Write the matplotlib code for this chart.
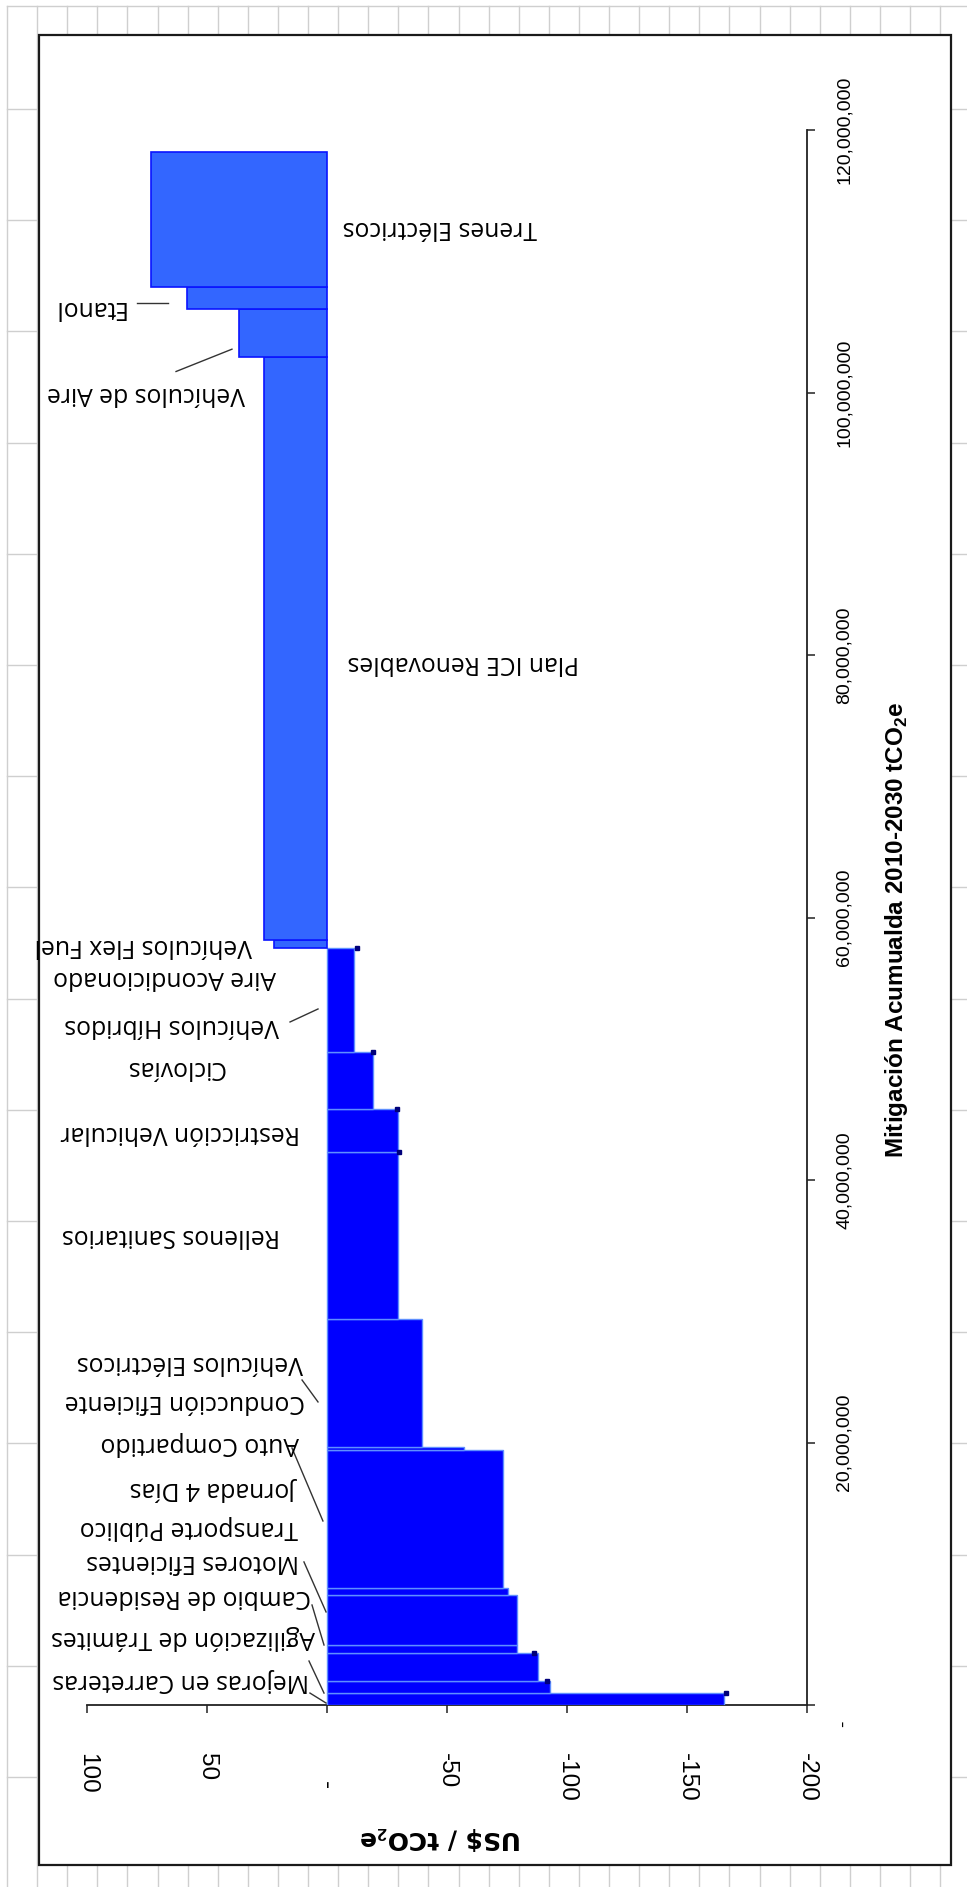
import matplotlib
matplotlib.use("Agg")
import matplotlib.pyplot as plt
from matplotlib import font_manager
from matplotlib.patches import Rectangle
import numpy as np

W, H, DPI = 967, 1887, 100

# ---- data -------------------------------------------------------------
# Abatement of each measure (million tCO2e) and its unit cost (US$/tCO2e),
# in merit order along the cumulative mitigation axis
mitigation_mt = [0.90, 0.91, 2.13, 0.61, 3.81, 0.53, 10.51, 0.23, 9.75,
                 12.72, 3.28, 4.34, 7.92, 0.61, 44.42, 3.66, 1.68, 10.29]
cost_usd = [-165.4, -92.9, -87.9, -79.2, -79.2, -75.4, -73.3, -57.1, -39.6,
            -29.7, -29.7, -19.0, -11.3, 22.1, 26.3, 36.7, 58.3, 73.3]

# small point markers sitting at the end of some measures
dot_bar = [0, 1, 2, 9, 10, 11, 12]
dot_cost = [-166.3, -91.7, -86.3, -30.0, -29.2, -19.2, -12.5]

cost_ticks = [100, 50, 0, -50, -100, -150, -200]
cost_ticklabels = ["100", "50", "    -", "-50", "-100", "-150", "-200"]
cum_ticks_mt = [0, 20, 40, 60, 80, 100, 120]
cum_ticklabels = ["-       ", "20,000,000", "40,000,000", "60,000,000",
                  "80,000,000", "100,000,000", "120,000,000"]

measure_labels = ["Mejoras en Carreteras", "Agilización de Trámites",
                  "Cambio de Residencia", "Motores Eficientes",
                  "Transporte Público", "Jornada 4 Días", "Auto Compartido",
                  "Conducción Eficiente", "Vehículos Eléctricos",
                  "Rellenos Sanitarios", "Restricción Vehicular", "Ciclovías",
                  "Vehículos Híbridos", "Aire Acondicionado",
                  "Vehículos Flex Fuel", "Plan ICE Renovables",
                  "Vehículos de Aire", "Etanol", "Trenes Eléctricos"]

# ---- layout -----------------------------------------------------------
# anchor of each measure label (cost, Mt): the start of the text
label_cost = [7.5, 5.0, 6.7, 11.7, 12.1, 11.7, 11.7, 9.2, 10.0, 19.6, 11.25,
              42.9, 20.0, 21.25, 31.25, -105.0, 34.2, 84.2, -87.5]
label_mt = [1.9, 5.18, 8.23, 10.9, 13.56, 16.5, 19.9, 23.1, 26.1, 35.8, 43.6,
            48.6, 51.8, 55.4, 57.9, 79.4, 99.96, 106.5, 112.6]

# leader lines ((cost0, cost1), (Mt0, Mt1))
leaders = [((7.1, 0.4), (0.91, 0.15)),
           ((7.5, 1.25), (3.35, 0.91)),
           ((6.25, 1.25), (7.62, 4.57)),
           ((9.6, 0.4), (10.9, 7.09)),
           ((14.6, 1.7), (19.58, 14.02)),
           ((10.4, 3.75), (24.76, 23.09)),
           ((15.4, 3.75), (52.04, 53.03)),
           ((62.9, 39.6), (101.6, 103.3)),
           ((79.2, 66.25), (106.8, 106.8))]

# condensed face for the axis texts when available
_installed = {f.name for f in font_manager.fontManager.ttflist}
if "Liberation Sans Narrow" in _installed:
    NARROW = ["Liberation Sans Narrow", "DejaVu Sans"]
    SZ_CUM, SZ_COST, SZ_TITLE = 17, 20, 19.5
else:
    NARROW = ["Liberation Sans", "DejaVu Sans"]
    SZ_CUM, SZ_COST, SZ_TITLE = 14, 17.5, 17.5
LABEL_FONT = ["Open Sans", "DejaVu Sans"]

plt.rcParams["mathtext.fontset"] = "custom"
plt.rcParams["mathtext.rm"] = "Liberation Sans"
plt.rcParams["mathtext.bf"] = "Liberation Sans:bold"

fig = plt.figure(figsize=(W / DPI, H / DPI), dpi=DPI)
fig.patch.set_facecolor("white")

# worksheet background with its cell grid, and the chart frame on top
bg = fig.add_axes([0, 0, 1, 1])
bg.set_xlim(0, W)
bg.set_ylim(H, 0)
bg.axis("off")
grid_c = "#cfcfcf"
for x in np.arange(7, W, 30.1):
    bg.plot([x, x], [6, H], color=grid_c, lw=1.0)
bg.plot([7, W], [6, 6], color=grid_c, lw=1.0)
for y in np.arange(109, H, 111.2):
    bg.plot([7, W], [y, y], color=grid_c, lw=1.0)
bg.add_patch(Rectangle((39, 35), 912, 1830, facecolor="white",
                       edgecolor="#1a1a1a", lw=1.6, zorder=5))

# axis titles
bg.text(441, 1838, "US\\$ / tCO$_{\\mathbf{2}}$e", rotation=180,
        ha="center", va="center", fontsize=18, fontweight="bold",
        family=["DejaVu Sans"], zorder=6)
bg.text(897, 930, "Mitigación Acumualda 2010-2030 tCO$_{\\mathbf{2}}$e",
        rotation=90, ha="center", va="center", fontsize=SZ_TITLE,
        fontweight="bold", family=NARROW, zorder=6)

# ---- chart --------------------------------------------------------------
ax = fig.add_axes([87 / W, 1 - 1705 / H, 720 / W, 1575 / H])
ax.patch.set_alpha(0)
ax.set_xlim(100, -200)
ax.set_ylim(0, 120e6)

mit = np.array(mitigation_mt) * 1e6
cost = np.array(cost_usd)
starts = np.concatenate([[0.0], np.cumsum(mit)[:-1]])
tops = starts + mit
neg = cost < 0
ax.barh(starts[neg], cost[neg], height=mit[neg], align="edge",
        color="#0000ff", edgecolor="#5f8fff", linewidth=1.0, zorder=3)
ax.barh(starts[~neg], cost[~neg], height=mit[~neg], align="edge",
        color="#3366ff", edgecolor="#0a14ff", linewidth=1.2, zorder=3)

ax.plot(dot_cost, tops[dot_bar], "s", ms=2.2, color="#00007a",
        zorder=4, clip_on=False)

for (cx, my) in leaders:
    ax.plot(cx, np.array(my) * 1e6, color="#333333", lw=1.0,
            zorder=4, clip_on=False)

for s, cx, my in zip(measure_labels, label_cost, label_mt):
    ax.text(cx, my * 1e6, s, rotation=180, rotation_mode="anchor",
            ha="left", va="center", fontsize=17.8, family=LABEL_FONT,
            color="#000000", zorder=5)

for side in ("left", "top"):
    ax.spines[side].set_visible(False)
for side in ("bottom", "right"):
    ax.spines[side].set_color("#222222")
    ax.spines[side].set_linewidth(1.3)

ax.set_xticks(cost_ticks)
ax.set_xticklabels(cost_ticklabels, rotation=-90, fontsize=SZ_COST,
                   family=NARROW)
ax.tick_params(axis="x", direction="out", length=5.8, width=1.1,
               color="#222222", pad=29)

ax.yaxis.tick_right()
ax.set_yticks(np.array(cum_ticks_mt) * 1e6)
ax.set_yticklabels(cum_ticklabels, rotation=90, fontsize=SZ_CUM,
                   family=NARROW, va="center")
ax.tick_params(axis="y", direction="out", length=5.8, width=1.1,
               color="#222222", pad=15, left=False, right=True)

fig.savefig("out.png", dpi=DPI)
